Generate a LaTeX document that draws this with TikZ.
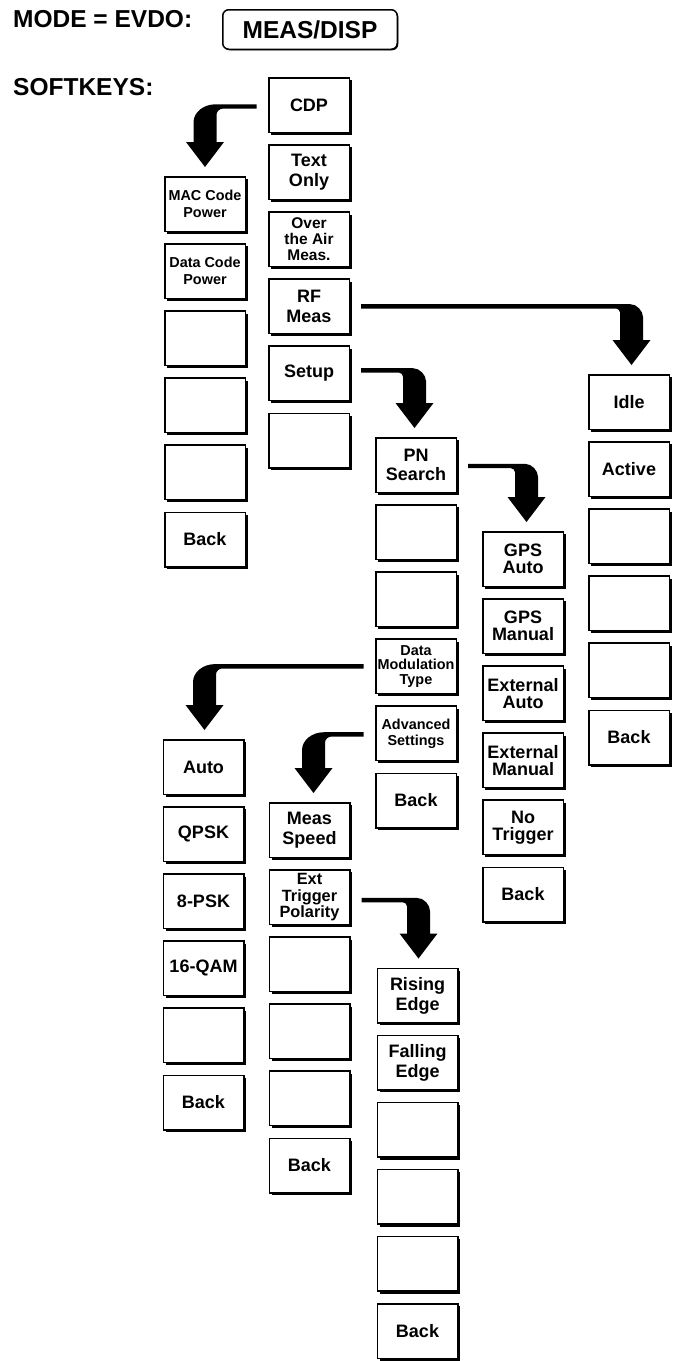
\documentclass[tikz,border=0pt]{standalone}
\usepackage{fontspec}
\setmainfont{Liberation Sans}
\usetikzlibrary{calc,shadows}

% bent arrow: source box -> right, then down onto target box
\newcommand{\arrRD}[4]{%
\fill[black] let \p1=(#1.east), \p2=(#2.north), \n1={\y1-(#3)*1pt}, \n2={\x2+(#4)*1pt} in
 ({\x1+11pt},{\n1+2.2pt})
 -- ({\n2-1.5pt},{\n1+2.2pt})
 .. controls ({\n2+5.5pt},{\n1+2.2pt}) and ({\n2+11.5pt},{\n1-4.8pt}) .. ({\n2+11.5pt},{\n1-10.8pt})
 -- ({\n2+11.5pt},{\y2+34pt})
 -- ({\n2+19pt},{\y2+34pt})
 -- ({\n2+0pt},{\y2+9pt})
 -- ({\n2-19pt},{\y2+34pt})
 -- ({\n2-11.5pt},{\y2+34pt})
 -- ({\n2-11.5pt},{\n1-6.2pt})
 .. controls ({\n2-11.5pt},{\n1-4.2pt}) and ({\n2-13.5pt},{\n1-2.2pt}) .. ({\n2-15.5pt},{\n1-2.2pt})
 -- ({\x1+11pt},{\n1-2.2pt}) -- cycle;}

% bent arrow: source box -> left, then down onto target box
\newcommand{\arrLD}[4]{%
\fill[black] let \p1=(#1.west), \p2=(#2.north), \n1={\y1-(#3)*1pt}, \n2={\x2+(#4)*1pt} in
 ({\x1-11.5pt},{\n1+2.2pt})
 -- ({\n2+10.5pt},{\n1+2.2pt})
 .. controls ({\n2-1.5pt},{\n1+2.2pt}) and ({\n2-11.5pt},{\n1-5.8pt}) .. ({\n2-11.5pt},{\n1-15.8pt})
 -- ({\n2-11.5pt},{\y2+34pt})
 -- ({\n2-19pt},{\y2+34pt})
 -- ({\n2+0pt},{\y2+9pt})
 -- ({\n2+19pt},{\y2+34pt})
 -- ({\n2+11.5pt},{\y2+34pt})
 -- ({\n2+11.5pt},{\n1-8.2pt})
 .. controls ({\n2+11.5pt},{\n1-5.2pt}) and ({\n2+14.5pt},{\n1-2.2pt}) .. ({\n2+17.5pt},{\n1-2.2pt})
 -- ({\x1-11.5pt},{\n1-2.2pt}) -- cycle;}

\begin{document}
\begin{tikzpicture}[x=1pt,y=-1pt,
 key/.style={draw, line width=1.5pt, fill=white, minimum width=80.5pt, minimum height=54.5pt,
   inner sep=0pt, align=center, font=\fontsize{18}{20}\selectfont\bfseries,
   general shadow={fill=black, shadow xshift=2.6pt, shadow yshift=-2.6pt}},
 sm/.style={font=\fontsize{14.4}{17}\selectfont\bfseries},
 gps/.style={font=\fontsize{18}{17}\selectfont\bfseries},
 hdr/.style={anchor=base west, inner sep=0pt, font=\fontsize{24.5}{28}\selectfont\bfseries}]
\useasboundingbox (0,0) rectangle (673,1361);
\fill[white] (0,0) rectangle (673,1361);

% header
\node[hdr] (mode) at (13,27) {MODE = EVDO:};
\node[hdr] (soft) at (13,95) {SOFTKEYS:};
\node[draw, line width=1.5pt, fill=white, rounded corners=6pt, minimum width=174.5pt,
  minimum height=39.5pt, inner sep=0pt, font=\fontsize{24.5}{28}\selectfont\bfseries,
  general shadow={fill=black, shadow xshift=1pt, shadow yshift=-1pt}] (meas) at (310,29.5) {MEAS/DISP};

% main column
\node[key] (cdp) at (309,105) {CDP};
\node[key] (txt) at (309,172.1) {Text\\Only};
\node[key,font=\fontsize{15.5}{16}\selectfont\bfseries] (ota) at (309,239.2) {Over\\the Air\\Meas.};
\node[key] (rf) at (309,306.3) {RF\\Meas};
\node[key] (setup) at (309,373.4) {Setup};
\node[key] (m6) at (309,440.5) {};

% CDP submenu
\node[key,sm] (l1) at (205,204) {MAC Code\\Power};
\node[key,sm] (l2) at (205,271.1) {Data Code\\Power};
\node[key] (l3) at (205,338.2) {};
\node[key] (l4) at (205,405.3) {};
\node[key] (l5) at (205,472.4) {};
\node[key] (l6) at (205,539.5) {Back};

% Setup submenu
\node[key,font=\fontsize{18}{19}\selectfont\bfseries] (p1) at (416,465) {PN\\Search};
\node[key] (p2) at (416,532.1) {};
\node[key] (p3) at (416,599.2) {};
\node[key,font=\fontsize{14.4}{14.5}\selectfont\bfseries] (p4) at (416,666.3) {Data\\Modulation\\Type};
\node[key,font=\fontsize{14.4}{16}\selectfont\bfseries] (p5) at (416,733.4) {Advanced\\Settings};
\node[key] (p6) at (416,800.5) {Back};

% PN Search submenu
\node[key,gps] (g1) at (523,559) {GPS\\Auto};
\node[key,gps] (g2) at (523,626.1) {GPS\\Manual};
\node[key,gps] (g3) at (523,693.2) {External\\Auto};
\node[key,gps] (g4) at (523,760.3) {External\\Manual};
\node[key,gps] (g5) at (523,827.4) {No\\Trigger};
\node[key] (g6) at (523,894.5) {Back};

% RF Meas submenu
\node[key] (i1) at (629,402) {Idle};
\node[key] (i2) at (629,469.1) {Active};
\node[key] (i3) at (629,536.2) {};
\node[key] (i4) at (629,603.3) {};
\node[key] (i5) at (629,670.4) {};
\node[key] (i6) at (629,737.5) {Back};

% Data Modulation Type submenu
\node[key] (a1) at (203.5,767) {Auto};
\node[key] (a2) at (203.5,834.1) {QPSK};
\node[key] (a3) at (203.5,901.2) {8-PSK};
\node[key] (a4) at (203.5,968.3) {16-QAM};
\node[key] (a5) at (203.5,1035.4) {};
\node[key] (a6) at (203.5,1102.5) {Back};

% Advanced Settings submenu
\node[key] (s1) at (309.5,830) {Meas\\Speed};
\node[key,font=\fontsize{16.3}{16.5}\selectfont\bfseries] (s2) at (309.5,897.1) {Ext\\Trigger\\Polarity};
\node[key] (s3) at (309.5,964.2) {};
\node[key] (s4) at (309.5,1031.3) {};
\node[key] (s5) at (309.5,1098.4) {};
\node[key] (s6) at (309.5,1165.5) {Back};

% Ext Trigger Polarity submenu
\node[key] (r1) at (417.5,995.5) {Rising\\Edge};
\node[key] (r2) at (417.5,1062.6) {Falling\\Edge};
\node[key] (r3) at (417.5,1129.7) {};
\node[key] (r4) at (417.5,1196.8) {};
\node[key] (r5) at (417.5,1263.9) {};
\node[key] (r6) at (417.5,1331) {Back};

% arrows
\arrLD{cdp}{l1}{1.5}{0}
\arrRD{rf}{i1}{0}{2.5}
\arrRD{setup}{p1}{-3}{-1.5}
\arrRD{p1}{g1}{1}{3.5}
\arrLD{p4}{a1}{0}{1}
\arrLD{p5}{s1}{1}{4}
\arrRD{s2}{r1}{3}{1}
\end{tikzpicture}
\end{document}
